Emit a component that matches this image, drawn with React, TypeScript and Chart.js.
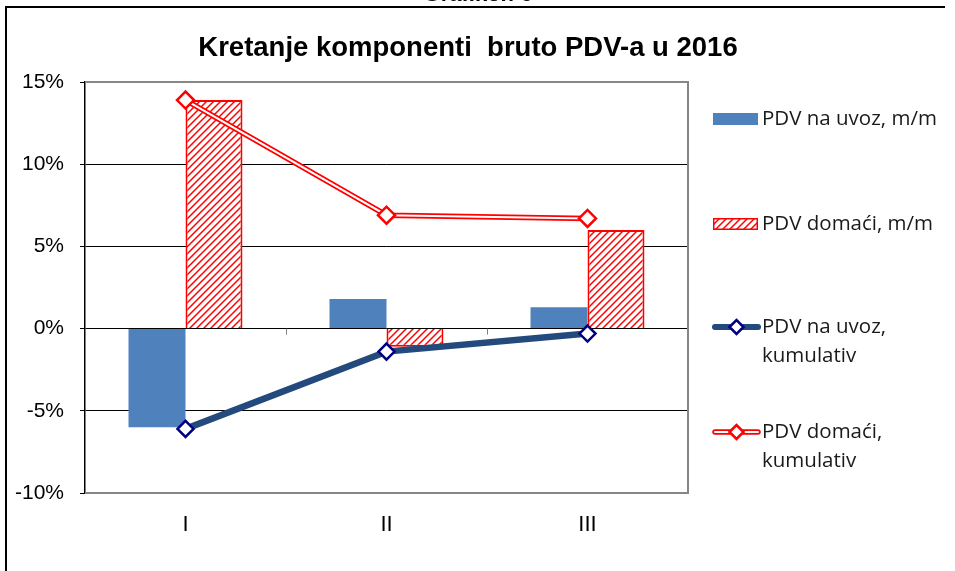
import React, { useEffect, useRef } from "react";
import { Chart, registerables } from "chart.js";

Chart.register(...registerables);

const categories = ["I", "II", "III"];
const uvozMM = [-6.0, 1.8, 1.3];
const domaciMM = [13.9, -1.1, 6.0];
const uvozKum = [-6.1, -1.4, -0.3];
const domaciKum = [13.9, 6.9, 6.7];
const yMin = -10;
const yMax = 15;
const yStep = 5;
const legendLabels: string[][] = [
  ["PDV na uvoz, m/m"],
  ["PDV domaći, m/m"],
  ["PDV na uvoz,", "kumulativ"],
  ["PDV domaći,", "kumulativ"],
];
const titleText = "Kretanje komponenti  bruto PDV-a u 2016";
const captionText = "Grafikon 6";

const BLUE_BAR = "#4F81BD";
const RED = "#FF0000";
const NAVY_LINE = "#24497C";
const NAVY_MARK = "#000080";
const AXIS_FONT = "'Liberation Sans', Arial, sans-serif";
const LEGEND_FONT = "'Open Sans', 'Noto Sans', sans-serif";

function makeHatch(ctx: CanvasRenderingContext2D): CanvasPattern | string {
  const c = document.createElement("canvas");
  const s = 7;
  c.width = s;
  c.height = s;
  const g = c.getContext("2d")!;
  g.fillStyle = "#fff";
  g.fillRect(0, 0, s, s);
  g.strokeStyle = RED;
  g.lineWidth = 1.5;
  g.beginPath();
  g.moveTo(-1, s + 1);
  g.lineTo(s + 1, -1);
  g.moveTo(-1, 1);
  g.lineTo(1, -1);
  g.moveTo(s - 1, s + 1);
  g.lineTo(s + 1, s - 1);
  g.stroke();
  return ctx.createPattern(c, "repeat") || RED;
}

function diamond(ctx: CanvasRenderingContext2D, x: number, y: number, r: number, stroke: string, lw: number) {
  ctx.beginPath();
  ctx.moveTo(x - r, y);
  ctx.lineTo(x, y - r);
  ctx.lineTo(x + r, y);
  ctx.lineTo(x, y + r);
  ctx.closePath();
  ctx.fillStyle = "#fff";
  ctx.fill();
  ctx.lineWidth = lw;
  ctx.strokeStyle = stroke;
  ctx.stroke();
}

export default function App() {
  const ref = useRef<HTMLCanvasElement | null>(null);

  useEffect(() => {
    const canvas = ref.current;
    if (!canvas) return;
    const ctx0 = canvas.getContext("2d")!;
    const hatch = makeHatch(ctx0);

    const decor = {
      id: "decor",
      beforeDraw(chart: any) {
        const ctx: CanvasRenderingContext2D = chart.ctx;
        ctx.save();
        ctx.fillStyle = "#fff";
        ctx.fillRect(0, 0, chart.width, chart.height);
        // outer frame
        ctx.strokeStyle = "#000";
        ctx.lineWidth = 2;
        ctx.beginPath();
        ctx.moveTo(6, chart.height);
        ctx.lineTo(6, 7);
        ctx.lineTo(945, 7);
        ctx.stroke();
        // caption (cut off at top)
        ctx.fillStyle = "#000";
        ctx.font = `bold 22px ${AXIS_FONT}`;
        ctx.textAlign = "center";
        ctx.textBaseline = "alphabetic";
        ctx.fillText(captionText, 478, 1);
        // title
        ctx.font = `bold 27.5px ${AXIS_FONT}`;
        ctx.fillText(titleText, 468, 56);
        ctx.restore();
      },
      afterDraw(chart: any) {
        const ctx: CanvasRenderingContext2D = chart.ctx;
        const a = chart.chartArea;
        const xs = chart.scales.x;
        const ys = chart.scales.y;
        ctx.save();
        // gray plot border (top, right, bottom)
        ctx.strokeStyle = "#868686";
        ctx.lineWidth = 2;
        ctx.beginPath();
        ctx.moveTo(a.left, a.top);
        ctx.lineTo(a.right, a.top);
        ctx.lineTo(a.right, a.bottom);
        ctx.lineTo(a.left, a.bottom);
        ctx.stroke();
        // category tick marks on zero line
        const y0 = ys.getPixelForValue(0);
        ctx.strokeStyle = "#808080";
        ctx.lineWidth = 1;
        for (let i = 0; i < categories.length - 1; i++) {
          const xm = Math.round((xs.getPixelForValue(i) + xs.getPixelForValue(i + 1)) / 2) + 0.5;
          ctx.beginPath();
          ctx.moveTo(xm, y0);
          ctx.lineTo(xm, y0 + 6);
          ctx.stroke();
        }
        // legend
        const sx0 = 713;
        const sx1 = 758;
        const tx = 762;
        const rows = [119, 224, 327, 432];
        const lineGap = 29;
        ctx.font = `20.5px ${LEGEND_FONT}`;
        ctx.textAlign = "left";
        ctx.textBaseline = "middle";
        legendLabels.forEach((lines, i) => {
          const cy = rows[i];
          if (i === 0) {
            ctx.fillStyle = BLUE_BAR;
            ctx.fillRect(sx0, cy - 6, sx1 - sx0, 12);
          } else if (i === 1) {
            ctx.fillStyle = hatch as any;
            ctx.fillRect(sx0, cy - 6, sx1 - sx0, 12);
            ctx.strokeStyle = RED;
            ctx.lineWidth = 1.5;
            ctx.strokeRect(sx0 + 0.75, cy - 5.25, sx1 - sx0 - 1.5, 10.5);
          } else if (i === 2) {
            ctx.strokeStyle = NAVY_LINE;
            ctx.lineWidth = 6;
            ctx.lineCap = "round";
            ctx.beginPath();
            ctx.moveTo(sx0 + 2, cy);
            ctx.lineTo(sx1, cy);
            ctx.stroke();
            ctx.lineCap = "butt";
            diamond(ctx, (sx0 + sx1) / 2 + 1, cy, 7, NAVY_MARK, 2.5);
          } else {
            ctx.strokeStyle = RED;
            ctx.lineWidth = 5.5;
            ctx.lineCap = "round";
            ctx.beginPath();
            ctx.moveTo(sx0 + 2, cy);
            ctx.lineTo(sx1, cy);
            ctx.stroke();
            ctx.strokeStyle = "#fff";
            ctx.lineWidth = 2;
            ctx.beginPath();
            ctx.moveTo(sx0 + 2, cy);
            ctx.lineTo(sx1, cy);
            ctx.stroke();
            ctx.lineCap = "butt";
            diamond(ctx, (sx0 + sx1) / 2 + 1, cy, 7, RED, 2.5);
          }
          ctx.fillStyle = "#1a1a1a";
          lines.forEach((t, k) => ctx.fillText(t, tx, cy + k * lineGap));
        });
        ctx.restore();
      },
    };

    const chart = new Chart(canvas, {
      type: "bar",
      data: {
        labels: categories,
        datasets: [
          {
            type: "bar",
            label: legendLabels[0].join(" "),
            data: uvozMM,
            backgroundColor: BLUE_BAR,
            borderWidth: 0,
            order: 10,
          } as any,
          {
            type: "bar",
            label: legendLabels[1].join(" "),
            data: domaciMM,
            backgroundColor: hatch,
            borderColor: RED,
            borderWidth: 2,
            order: 10,
          } as any,
          {
            type: "line",
            label: legendLabels[2].join(" "),
            data: uvozKum,
            borderColor: NAVY_LINE,
            borderWidth: 6.5,
            pointStyle: "rectRot",
            pointRadius: 8,
            pointBorderWidth: 2.5,
            pointBorderColor: NAVY_MARK,
            pointBackgroundColor: "#fff",
            tension: 0,
            order: 0,
          } as any,
          {
            type: "line",
            label: legendLabels[3].join(" "),
            data: domaciKum,
            borderColor: RED,
            borderWidth: 5.5,
            pointRadius: 0,
            tension: 0,
            order: 3,
          } as any,
          {
            type: "line",
            label: "inner",
            data: domaciKum,
            borderColor: "#fff",
            borderWidth: 2,
            pointRadius: 0,
            tension: 0,
            order: 2,
          } as any,
          {
            type: "line",
            label: "marks",
            data: domaciKum,
            showLine: false,
            pointStyle: "rectRot",
            pointRadius: 8.5,
            pointBorderWidth: 2.5,
            pointBorderColor: RED,
            pointBackgroundColor: "#fff",
            order: 1,
          } as any,
        ],
      },
      options: {
        responsive: false,
        animation: false,
        layout: { padding: { top: 82, right: 267, left: 0, bottom: 0 } },
        plugins: {
          legend: { display: false },
          title: { display: false },
          tooltip: { enabled: false },
        },
        scales: {
          x: {
            type: "category",
            offset: true,
            grid: { display: false, drawTicks: false },
            border: { display: false },
            ticks: {
              color: "#000",
              font: { family: AXIS_FONT, size: 22 },
              padding: 19,
            },
            afterFit: (s: any) => {
              s.height = 78;
            },
          } as any,
          y: {
            min: yMin,
            max: yMax,
            ticks: {
              stepSize: yStep,
              color: "#000",
              font: { family: AXIS_FONT, size: 21 },
              padding: 16,
              callback: (v: any) => `${v}%`,
            },
            grid: {
              color: (c: any) =>
                c.tick && (c.tick.value === yMin || c.tick.value === yMax) ? "rgba(0,0,0,0)" : "#000",
              tickColor: "#000",
              tickLength: 5,
              lineWidth: 1,
            },
            border: { display: true, color: "#000", width: 1.5 },
            afterFit: (s: any) => {
              s.width = 85;
            },
          } as any,
        },
        datasets: {
          bar: { categoryPercentage: 0.567, barPercentage: 1 },
        } as any,
      },
      plugins: [decor],
    });

    return () => chart.destroy();
  }, []);

  return (
    <div style={{ position: "absolute", left: 0, top: 0, width: 955, height: 571 }}>
      <canvas ref={ref} width={955} height={571} style={{ display: "block" }} />
    </div>
  );
}
